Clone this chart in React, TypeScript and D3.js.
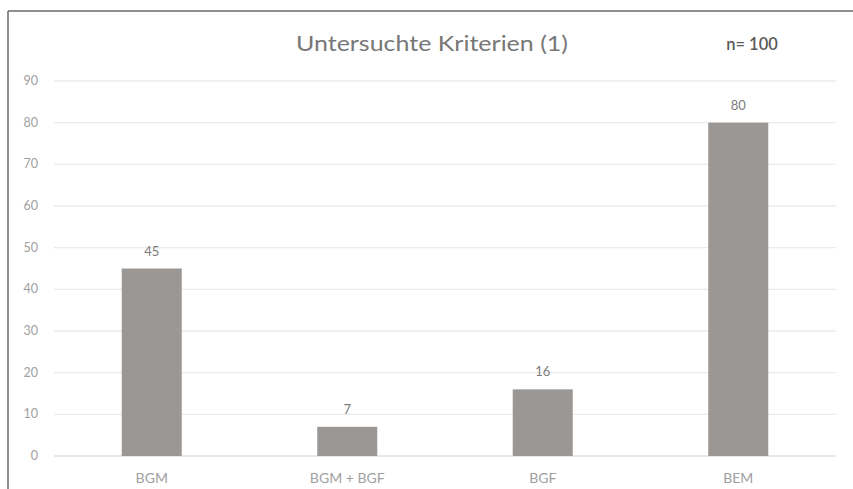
import React from "react";
import * as d3 from "d3";

const categories = ["BGM", "BGM + BGF", "BGF", "BEM"];
const values = [45, 7, 16, 80];
const yTicks = [0, 10, 20, 30, 40, 50, 60, 70, 80, 90];
const title = "Untersuchte Kriterien (1)";
const note = "n= 100";

const W = 853;
const H = 489;
const plot = { left: 54, right: 836, top: 81, bottom: 456 };

export default function App() {
  const x = d3
    .scaleBand<string>()
    .domain(categories)
    .range([plot.left, plot.right])
    .paddingInner(0.693)
    .paddingOuter(0.3465);
  const y = d3.scaleLinear().domain([0, 90]).range([plot.bottom, plot.top]);
  const font = "Lato, 'Open Sans', sans-serif";
  return (
    <svg
      width={W}
      height={H}
      style={{ position: "absolute", left: 0, top: 0, background: "#fff" }}
    >
      <rect x={0} y={0} width={W} height={H} fill="#fff" />
      {/* frame */}
      <line x1={8} x2={W} y1={11} y2={11} stroke="#6a6a6a" strokeWidth={1.5} />
      <line x1={8} x2={8} y1={11} y2={H} stroke="#6a6a6a" strokeWidth={1.5} />
      {/* gridlines */}
      {yTicks.map((t) => (
        <line
          key={t}
          x1={plot.left}
          x2={plot.right}
          y1={y(t)}
          y2={y(t)}
          stroke={t === 0 ? "#e0e0e0" : "#ebebeb"}
          strokeWidth={1.4}
        />
      ))}
      {yTicks.map((t) => (
        <text
          key={"l" + t}
          x={38}
          y={y(t)}
          dy="0.32em"
          textAnchor="end"
          fontFamily={font}
          fontSize={12.5}
          fill="#a0a0a0"
        >
          {t}
        </text>
      ))}
      {categories.map((c, i) => (
        <g key={c}>
          <rect
            x={x(c)}
            y={y(values[i])}
            width={x.bandwidth()}
            height={y(0) - y(values[i])}
            fill="#9b9794"
          />
          <text
            x={(x(c) as number) + x.bandwidth() / 2}
            y={y(values[i]) - 13}
            textAnchor="middle"
            fontFamily={font}
            fontSize={13}
            fill="#7c7c7c"
          >
            {values[i]}
          </text>
          <text
            x={(x(c) as number) + x.bandwidth() / 2}
            y={483}
            textAnchor="middle"
            fontFamily={font}
            fontSize={14}
            fill="#a0a0a0"
          >
            {c}
          </text>
        </g>
      ))}
      <text
        x={432}
        y={51}
        textAnchor="middle"
        fontFamily={font}
        fontSize={21.5}
        fill="#777"
        textLength={272}
        lengthAdjust="spacingAndGlyphs"
      >
        {title}
      </text>
      <text
        x={752}
        y={50}
        textAnchor="middle"
        fontFamily={font}
        fontSize={16.5}
        fontWeight={600}
        fill="#5a5a5a"
      >
        {note}
      </text>
    </svg>
  );
}
